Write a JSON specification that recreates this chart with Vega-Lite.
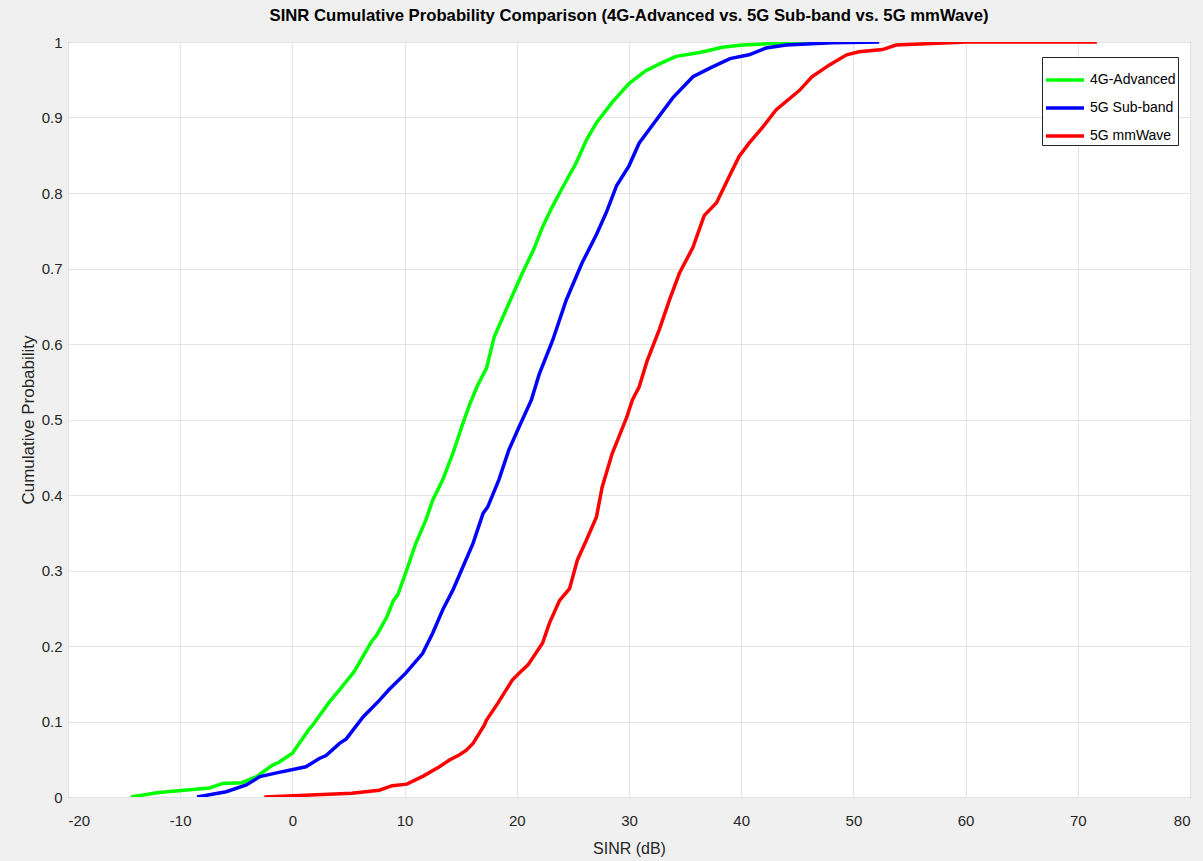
{
  "$schema": "https://vega.github.io/schema/vega-lite/v6.json",
  "width": 1122,
  "height": 755,
  "autosize": {"type": "none"},
  "padding": {"left": 68, "top": 42, "right": 13, "bottom": 64},
  "background": "#f0f0f0",
  "title": {
    "text": "SINR Cumulative Probability Comparison (4G-Advanced vs. 5G Sub-band vs. 5G mmWave)",
    "font": "Liberation Sans, Arial",
    "fontSize": 16.7,
    "fontWeight": "bold",
    "color": "#000000",
    "anchor": "middle",
    "offset": 10
  },
  "config": {
    "view": {"fill": "white", "stroke": "#262626", "strokeWidth": 1},
    "font": "Liberation Sans, Arial"
  },
  "data": {
    "values": [
      {"s": "4G-Advanced", "x": -14.4, "p": 0},
      {"s": "4G-Advanced", "x": -11.9, "p": 0.006},
      {"s": "4G-Advanced", "x": -7.4, "p": 0.012},
      {"s": "4G-Advanced", "x": -6.2, "p": 0.018},
      {"s": "4G-Advanced", "x": -4.5, "p": 0.019},
      {"s": "4G-Advanced", "x": -3.2, "p": 0.027},
      {"s": "4G-Advanced", "x": -1.8, "p": 0.042},
      {"s": "4G-Advanced", "x": -1.2, "p": 0.046},
      {"s": "4G-Advanced", "x": 0, "p": 0.058},
      {"s": "4G-Advanced", "x": 1.5, "p": 0.09},
      {"s": "4G-Advanced", "x": 1.8, "p": 0.095},
      {"s": "4G-Advanced", "x": 3.3, "p": 0.126},
      {"s": "4G-Advanced", "x": 4.2, "p": 0.142},
      {"s": "4G-Advanced", "x": 5.5, "p": 0.166},
      {"s": "4G-Advanced", "x": 7.1, "p": 0.207},
      {"s": "4G-Advanced", "x": 7.5, "p": 0.214},
      {"s": "4G-Advanced", "x": 8.4, "p": 0.238},
      {"s": "4G-Advanced", "x": 9.0, "p": 0.26},
      {"s": "4G-Advanced", "x": 9.4, "p": 0.268},
      {"s": "4G-Advanced", "x": 10.1, "p": 0.297},
      {"s": "4G-Advanced", "x": 11.0, "p": 0.336},
      {"s": "4G-Advanced", "x": 11.9, "p": 0.367},
      {"s": "4G-Advanced", "x": 12.5, "p": 0.393},
      {"s": "4G-Advanced", "x": 13.4, "p": 0.42},
      {"s": "4G-Advanced", "x": 14.3, "p": 0.455},
      {"s": "4G-Advanced", "x": 15.2, "p": 0.495},
      {"s": "4G-Advanced", "x": 15.8, "p": 0.52},
      {"s": "4G-Advanced", "x": 16.5, "p": 0.545},
      {"s": "4G-Advanced", "x": 17.3, "p": 0.568},
      {"s": "4G-Advanced", "x": 18.0, "p": 0.61},
      {"s": "4G-Advanced", "x": 19.3, "p": 0.654},
      {"s": "4G-Advanced", "x": 20.5, "p": 0.694},
      {"s": "4G-Advanced", "x": 21.5, "p": 0.725},
      {"s": "4G-Advanced", "x": 22.3, "p": 0.755},
      {"s": "4G-Advanced", "x": 23.1, "p": 0.78},
      {"s": "4G-Advanced", "x": 24.1, "p": 0.808},
      {"s": "4G-Advanced", "x": 25.3, "p": 0.84},
      {"s": "4G-Advanced", "x": 26.2, "p": 0.87},
      {"s": "4G-Advanced", "x": 27.1, "p": 0.893},
      {"s": "4G-Advanced", "x": 28.5, "p": 0.92},
      {"s": "4G-Advanced", "x": 30.0, "p": 0.945},
      {"s": "4G-Advanced", "x": 31.5, "p": 0.962},
      {"s": "4G-Advanced", "x": 33.0, "p": 0.973},
      {"s": "4G-Advanced", "x": 34.2, "p": 0.981},
      {"s": "4G-Advanced", "x": 36.3, "p": 0.986},
      {"s": "4G-Advanced", "x": 37.2, "p": 0.989},
      {"s": "4G-Advanced", "x": 38.3, "p": 0.993},
      {"s": "4G-Advanced", "x": 40.1, "p": 0.996},
      {"s": "4G-Advanced", "x": 44.0, "p": 0.999},
      {"s": "4G-Advanced", "x": 49.2, "p": 1.0},
      {"s": "5G Sub-band", "x": -8.5, "p": 0},
      {"s": "5G Sub-band", "x": -5.9, "p": 0.007},
      {"s": "5G Sub-band", "x": -4.1, "p": 0.016},
      {"s": "5G Sub-band", "x": -2.9, "p": 0.027},
      {"s": "5G Sub-band", "x": -1.4, "p": 0.032},
      {"s": "5G Sub-band", "x": 1.2, "p": 0.04},
      {"s": "5G Sub-band", "x": 2.4, "p": 0.051},
      {"s": "5G Sub-band", "x": 3.0, "p": 0.055},
      {"s": "5G Sub-band", "x": 4.2, "p": 0.071},
      {"s": "5G Sub-band", "x": 4.8, "p": 0.077},
      {"s": "5G Sub-band", "x": 6.3, "p": 0.106},
      {"s": "5G Sub-band", "x": 7.75, "p": 0.128},
      {"s": "5G Sub-band", "x": 8.6, "p": 0.142},
      {"s": "5G Sub-band", "x": 10.1, "p": 0.164},
      {"s": "5G Sub-band", "x": 11.6, "p": 0.19},
      {"s": "5G Sub-band", "x": 12.5, "p": 0.217},
      {"s": "5G Sub-band", "x": 13.4, "p": 0.248},
      {"s": "5G Sub-band", "x": 14.3, "p": 0.274},
      {"s": "5G Sub-band", "x": 15.2, "p": 0.305},
      {"s": "5G Sub-band", "x": 16.1, "p": 0.336},
      {"s": "5G Sub-band", "x": 17.0, "p": 0.376},
      {"s": "5G Sub-band", "x": 17.4, "p": 0.384},
      {"s": "5G Sub-band", "x": 18.4, "p": 0.42},
      {"s": "5G Sub-band", "x": 19.3, "p": 0.46},
      {"s": "5G Sub-band", "x": 20.2, "p": 0.49},
      {"s": "5G Sub-band", "x": 20.9, "p": 0.513},
      {"s": "5G Sub-band", "x": 21.3, "p": 0.526},
      {"s": "5G Sub-band", "x": 22.0, "p": 0.56},
      {"s": "5G Sub-band", "x": 23.2, "p": 0.605},
      {"s": "5G Sub-band", "x": 24.4, "p": 0.658},
      {"s": "5G Sub-band", "x": 25.8, "p": 0.707},
      {"s": "5G Sub-band", "x": 27.1, "p": 0.745},
      {"s": "5G Sub-band", "x": 28.0, "p": 0.775},
      {"s": "5G Sub-band", "x": 28.9, "p": 0.81},
      {"s": "5G Sub-band", "x": 30.0, "p": 0.836},
      {"s": "5G Sub-band", "x": 30.9, "p": 0.866},
      {"s": "5G Sub-band", "x": 32.1, "p": 0.89},
      {"s": "5G Sub-band", "x": 33.9, "p": 0.926},
      {"s": "5G Sub-band", "x": 35.7, "p": 0.954},
      {"s": "5G Sub-band", "x": 37.3, "p": 0.966},
      {"s": "5G Sub-band", "x": 39.0, "p": 0.978},
      {"s": "5G Sub-band", "x": 40.7, "p": 0.983},
      {"s": "5G Sub-band", "x": 42.2, "p": 0.992},
      {"s": "5G Sub-band", "x": 44.0, "p": 0.996},
      {"s": "5G Sub-band", "x": 48.1, "p": 0.999},
      {"s": "5G Sub-band", "x": 52.3, "p": 1.0},
      {"s": "5G mmWave", "x": -2.5, "p": 0},
      {"s": "5G mmWave", "x": 5.3, "p": 0.005},
      {"s": "5G mmWave", "x": 7.75, "p": 0.009},
      {"s": "5G mmWave", "x": 8.9, "p": 0.015},
      {"s": "5G mmWave", "x": 10.2, "p": 0.017},
      {"s": "5G mmWave", "x": 11.7, "p": 0.028},
      {"s": "5G mmWave", "x": 13.1, "p": 0.04},
      {"s": "5G mmWave", "x": 14.0, "p": 0.049},
      {"s": "5G mmWave", "x": 14.9, "p": 0.056},
      {"s": "5G mmWave", "x": 15.5, "p": 0.062},
      {"s": "5G mmWave", "x": 16.1, "p": 0.071},
      {"s": "5G mmWave", "x": 17.1, "p": 0.095},
      {"s": "5G mmWave", "x": 17.3, "p": 0.102},
      {"s": "5G mmWave", "x": 18.3, "p": 0.124},
      {"s": "5G mmWave", "x": 19.6, "p": 0.155},
      {"s": "5G mmWave", "x": 20.2, "p": 0.164},
      {"s": "5G mmWave", "x": 21.0, "p": 0.175},
      {"s": "5G mmWave", "x": 22.3, "p": 0.204},
      {"s": "5G mmWave", "x": 22.9, "p": 0.23},
      {"s": "5G mmWave", "x": 23.8, "p": 0.26},
      {"s": "5G mmWave", "x": 24.7, "p": 0.276},
      {"s": "5G mmWave", "x": 25.4, "p": 0.314},
      {"s": "5G mmWave", "x": 26.2, "p": 0.34},
      {"s": "5G mmWave", "x": 27.1, "p": 0.371},
      {"s": "5G mmWave", "x": 27.6, "p": 0.41},
      {"s": "5G mmWave", "x": 28.5, "p": 0.455},
      {"s": "5G mmWave", "x": 29.1, "p": 0.477},
      {"s": "5G mmWave", "x": 29.8, "p": 0.503},
      {"s": "5G mmWave", "x": 30.3, "p": 0.526},
      {"s": "5G mmWave", "x": 30.9, "p": 0.543},
      {"s": "5G mmWave", "x": 31.6, "p": 0.577},
      {"s": "5G mmWave", "x": 32.7, "p": 0.619},
      {"s": "5G mmWave", "x": 33.6, "p": 0.658},
      {"s": "5G mmWave", "x": 34.5, "p": 0.694},
      {"s": "5G mmWave", "x": 35.7, "p": 0.728},
      {"s": "5G mmWave", "x": 36.7, "p": 0.77},
      {"s": "5G mmWave", "x": 37.8, "p": 0.787},
      {"s": "5G mmWave", "x": 38.9, "p": 0.821},
      {"s": "5G mmWave", "x": 39.8, "p": 0.848},
      {"s": "5G mmWave", "x": 40.7, "p": 0.866},
      {"s": "5G mmWave", "x": 41.9, "p": 0.887},
      {"s": "5G mmWave", "x": 43.1, "p": 0.91},
      {"s": "5G mmWave", "x": 45.2, "p": 0.936},
      {"s": "5G mmWave", "x": 46.3, "p": 0.954},
      {"s": "5G mmWave", "x": 47.9, "p": 0.97},
      {"s": "5G mmWave", "x": 49.4, "p": 0.983},
      {"s": "5G mmWave", "x": 50.5, "p": 0.987},
      {"s": "5G mmWave", "x": 52.6, "p": 0.99},
      {"s": "5G mmWave", "x": 53.8, "p": 0.996},
      {"s": "5G mmWave", "x": 57.0, "p": 0.998},
      {"s": "5G mmWave", "x": 60.1, "p": 1.0},
      {"s": "5G mmWave", "x": 71.7, "p": 1.0}
    ]
  },
  "mark": {"type": "line", "strokeWidth": 3.5, "clip": true},
  "encoding": {
    "x": {
      "field": "x",
      "type": "quantitative",
      "scale": {"domain": [-20, 80], "nice": false, "zero": false},
      "axis": {
        "title": "SINR (dB)",
        "values": [-20, -10, 0, 10, 20, 30, 40, 50, 60, 70, 80],
        "labelExpr": "toString(datum.value)",
        "grid": true,
        "gridColor": "#e3e3e3",
        "gridWidth": 1,
        "domain": false,
        "ticks": false,
        "labelPadding": 16,
        "labelFontSize": 15,
        "labelColor": "#262626",
        "titleFontSize": 16,
        "titleFontWeight": "normal",
        "titleColor": "#262626",
        "titlePadding": 12
      }
    },
    "y": {
      "field": "p",
      "type": "quantitative",
      "scale": {"domain": [0, 1], "nice": false},
      "axis": {
        "title": "Cumulative Probability",
        "values": [0, 0.1, 0.2, 0.3, 0.4, 0.5, 0.6, 0.7, 0.8, 0.9, 1],
        "format": "~g",
        "grid": true,
        "gridColor": "#e3e3e3",
        "gridWidth": 1,
        "domain": false,
        "ticks": false,
        "labelPadding": 6,
        "labelFontSize": 15,
        "labelColor": "#262626",
        "titleFontSize": 17,
        "titleFontWeight": "normal",
        "titleColor": "#262626",
        "titlePadding": 4
      }
    },
    "color": {
      "field": "s",
      "type": "nominal",
      "sort": ["4G-Advanced", "5G Sub-band", "5G mmWave"],
      "scale": {
        "domain": ["4G-Advanced", "5G Sub-band", "5G mmWave"],
        "range": ["#00ff00", "#0000ff", "#ff0000"]
      },
      "legend": {
        "title": null,
        "orient": "none",
        "legendX": 974,
        "legendY": 15,
        "symbolType": "stroke",
        "symbolSize": 1444,
        "symbolStrokeWidth": 3.5,
        "labelFontSize": 14,
        "labelColor": "#000000",
        "fillColor": "white",
        "strokeColor": "#262626",
        "padding": 2,
        "rowPadding": -18,
        "labelOffset": 4
      }
    }
  }
}
